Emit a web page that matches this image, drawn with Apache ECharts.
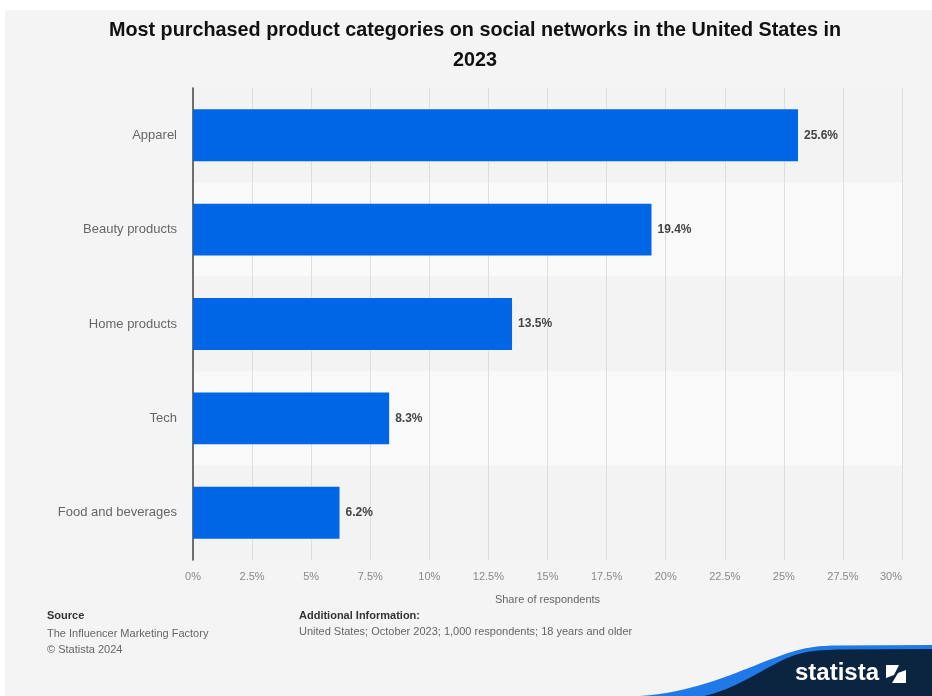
<!DOCTYPE html>
<html>
<head>
<meta charset="utf-8">
<style>
  html, body { margin: 0; padding: 0; background: #ffffff; }
  #chart { width: 932px; height: 696px; }
</style>
<script src="https://cdn.jsdelivr.net/npm/echarts@6/dist/echarts.min.js"></script>
</head>
<body>
<div id="chart"></div>
<script>
// Product categories, top to bottom
const categories = ['Apparel', 'Beauty products', 'Home products', 'Tech', 'Food and beverages'];
// Share of respondents (%)
const shares = [25.6, 19.4, 13.5, 8.3, 6.2];
// Value-axis range and step (%)
const axisMin = 0;
const axisMax = 30;
const axisStep = 2.5;

const titleText = 'Most purchased product categories on social networks in the United States in\n2023';
const axisTitle = 'Share of respondents';
const sourceLines = ['The Influencer Marketing Factory', '\u00a9 Statista 2024'];
const infoLine = 'United States; October 2023; 1,000 respondents; 18 years and older';

const FONT = '"Liberation Sans", Arial, sans-serif';

// Sample a chain of cubic Bézier segments into polygon points
function bezierChain(start, segs, steps) {
  const pts = [start.slice()];
  let p0 = start;
  segs.forEach(([c1, c2, p3]) => {
    for (let i = 1; i <= steps; i++) {
      const t = i / steps, u = 1 - t;
      pts.push([
        u * u * u * p0[0] + 3 * u * u * t * c1[0] + 3 * u * t * t * c2[0] + t * t * t * p3[0],
        u * u * u * p0[1] + 3 * u * u * t * c1[1] + 3 * u * t * t * c2[1] + t * t * t * p3[1]
      ]);
    }
    p0 = p3;
  });
  return pts;
}

// Logo band: light blue edge and dark fill underneath
const swooshEdge = bezierChain([640, 696], [
  [[700, 692], [745, 668], [785, 654]],
  [[800, 649], [812, 646], [835, 645.5]]
], 20).concat([[932, 645], [932, 696]]);
const swooshFill = bezierChain([704, 696], [
  [[740, 688], [765, 666], [795, 655]],
  [[808, 651], [818, 650], [840, 649.5]]
], 20).concat([[932, 649], [932, 696]]);

const chart = echarts.init(document.getElementById('chart'), null, { renderer: 'canvas' });

chart.setOption({
  backgroundColor: 'transparent',
  animation: false,
  grid: {
    left: 193,
    right: 30,
    top: 88,
    bottom: 136,
    containLabel: false
  },
  xAxis: {
    type: 'value',
    min: axisMin,
    max: axisMax,
    interval: axisStep,
    name: axisTitle,
    nameLocation: 'middle',
    nameGap: 34,
    nameTextStyle: { fontFamily: FONT, fontSize: 11, color: '#666' },
    axisLine: { show: false },
    axisTick: { show: false },
    axisLabel: {
      fontFamily: FONT,
      fontSize: 11,
      color: '#888',
      margin: 11,
      alignMaxLabel: 'right',
      formatter: v => v + '%'
    },
    splitLine: { show: true, lineStyle: { color: '#dedede', width: 1 } }
  },
  yAxis: {
    type: 'category',
    data: categories,
    inverse: true,
    axisLine: { show: true, lineStyle: { color: '#444', width: 1.5 } },
    axisTick: { show: false },
    axisLabel: {
      fontFamily: FONT,
      fontSize: 13,
      color: '#666',
      margin: 16
    },
    splitLine: { show: false },
    splitArea: {
      show: true,
      areaStyle: { color: ['#f3f3f3', '#f9f9f9'] }
    }
  },
  series: [{
    type: 'bar',
    data: shares,
    barCategoryGap: '45%',
    itemStyle: { color: '#0066e6' },
    label: {
      show: true,
      position: 'right',
      distance: 6,
      fontFamily: FONT,
      fontSize: 12,
      fontWeight: 'bold',
      color: '#444',
      formatter: p => p.value.toFixed(1) + '%'
    },
    z: 3
  }],
  graphic: [
    // page panel
    {
      type: 'rect', z: -10, silent: true,
      shape: { x: 5, y: 10, width: 927, height: 686 },
      style: { fill: '#f4f4f4' }
    },
    // chart title
    {
      type: 'text', x: 475, y: 16,
      style: {
        text: titleText, font: 'bold 19.8px ' + FONT, fill: '#111',
        textAlign: 'center', lineHeight: 30
      }
    },
    // footer texts
    {
      type: 'text', x: 47, y: 610,
      style: { text: 'Source', font: 'bold 11px ' + FONT, fill: '#333' }
    },
    {
      type: 'text', x: 47, y: 626,
      style: { text: sourceLines.join('\n'), font: '11px ' + FONT, fill: '#666', lineHeight: 16 }
    },
    {
      type: 'text', x: 299, y: 610,
      style: { text: 'Additional Information:', font: 'bold 11px ' + FONT, fill: '#333' }
    },
    {
      type: 'text', x: 299, y: 626,
      style: { text: infoLine, font: '11px ' + FONT, fill: '#666' }
    },
    // logo band
    {
      type: 'polygon', silent: true,
      shape: { points: swooshEdge },
      style: { fill: '#1f7ae8' }
    },
    {
      type: 'polygon', silent: true,
      shape: { points: swooshFill },
      style: { fill: '#0b2440' }
    },
    {
      type: 'text', x: 795, y: 661,
      style: { text: 'statista', font: 'bold 24px ' + FONT, fill: '#ffffff' }
    },
    {
      type: 'rect', silent: true,
      shape: { x: 886, y: 665, width: 20, height: 18 },
      style: { fill: '#ffffff' }
    },
    {
      type: 'polygon', silent: true,
      shape: { points: [[886, 683], [886, 678], [894, 675], [899, 665], [906, 665], [906, 670], [898, 673], [892, 683]] },
      style: { fill: '#0b2440' }
    }
  ]
});
</script>
</body>
</html>
